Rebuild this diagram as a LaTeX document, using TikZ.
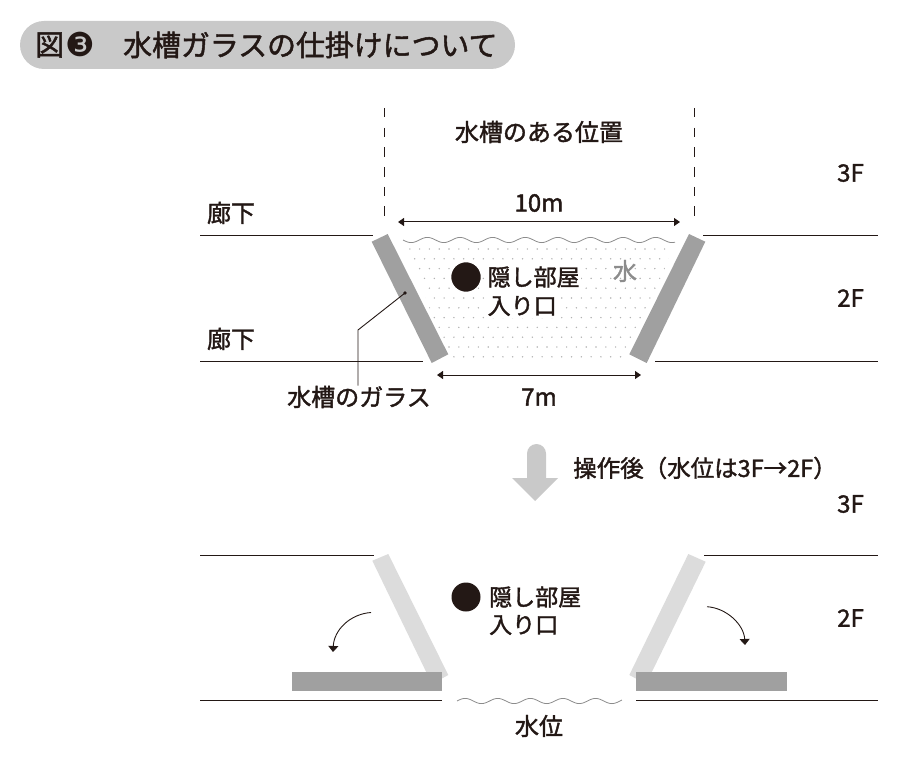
\documentclass[tikz,border=0pt]{standalone}
\usepackage{fontspec}
\setmainfont[FakeBold=1.6]{Noto Sans CJK JP}
\newfontfamily\symfont{DejaVu Sans}
\usetikzlibrary{arrows.meta}
\definecolor{ink}{HTML}{231815}
\definecolor{glass}{HTML}{A0A0A0}
\definecolor{glasslight}{HTML}{DCDCDC}
\definecolor{pill}{HTML}{C9C9C9}
\definecolor{water}{HTML}{8C8C8C}
\tikzset{
  x=1pt,y=-1pt,
  lab/.style={font=\fontsize{24}{24}\selectfont,text=ink,inner sep=0pt},
  labw/.style={lab,anchor=west,font=\fontsize{23}{24}\selectfont},
  halo/.style={fill=white,inner sep=1.5pt},
  floorline/.style={draw=ink,line width=1pt},
  dim/.style={draw=ink,line width=1pt,{Triangle[length=6pt,width=8pt]}-{Triangle[length=6pt,width=8pt]}},
  swing/.style={draw=ink,line width=0.9pt,-{Triangle[length=6pt,width=10pt]}},
  wave/.style={draw=water,line width=0.8pt},
  dashv/.style={draw=ink,line width=1pt,dash pattern=on 9.5pt off 10.2pt},
  dotm/.style={fill=ink,circle,minimum size=29pt,inner sep=0pt},
}
\begin{document}
\begin{tikzpicture}
\useasboundingbox (0,0) rectangle (899,759);
% title
\fill[pill,rounded corners=24pt] (20,21) rectangle (515,69);
\node[labw,font=\fontsize{29}{29}\selectfont] (figno) at (35,45) {図};
\node[labw,font=\fontsize{33}{33}\selectfont] (figmark) at (65,44.5) {\symfont ❸};
\node[labw,font=\fontsize{28.9}{29}\selectfont] (title) at (123,45) {水槽ガラスの仕掛けについて};
% upper: water dots
\begin{scope}
\clip (404,246) -- (674,246) -- (628,358) -- (450,358) -- cycle;
\foreach \r in {0,...,11}{
  \foreach \c in {0,...,28}{
    \pgfmathsetmacro{\dx}{400+\c*9.8+mod(\r,2)*4.9}
    \pgfmathsetmacro{\dy}{249+\r*9.8}
    \fill[black!30] (\dx,\dy) circle (0.8pt);
  }
}
\end{scope}
\draw[wave] plot[domain=403:675,samples=160,smooth] (\x,{240+2.6*sin((\x-403)/32.6*360)});
% upper glass
\fill[glass] (371.7,241.7) -- (387.7,234) -- (448.3,354.3) -- (431.7,363) -- cycle;
\fill[glass] (689,234) -- (705.3,241.7) -- (646.7,363) -- (629.3,354.3) -- cycle;
% floor lines upper
\coordinate (a1) at (200,236); \coordinate (a2) at (373,236);
\coordinate (a3) at (703,236); \coordinate (a4) at (878,236);
\coordinate (b1) at (200,361); \coordinate (b2) at (423,361);
\coordinate (b3) at (655,361); \coordinate (b4) at (878,361);
\draw[floorline] (a1) -- (a2); \draw[floorline] (a3) -- (a4);
\draw[floorline] (b1) -- (b2); \draw[floorline] (b3) -- (b4);
% dashed
\coordinate (d1) at (384,108); \coordinate (d2) at (384,216);
\coordinate (d3) at (694,108); \coordinate (d4) at (694,216);
\draw[dashv] (d1) -- (d2);
\draw[dashv] (d3) -- (d4);
% dims
\coordinate (t1) at (398,222); \coordinate (t2) at (680,222);
\coordinate (s1) at (437,375); \coordinate (s2) at (641,375);
\draw[dim] (t1) -- (t2);
\draw[dim] (s1) -- (s2);
% labels
\node[lab] (pos) at (539,132) {水槽のある位置};
\node[lab] (ten) at (539,203) {10m};
\node[lab] (seven) at (539,397) {7m};
\node[lab] (cor1) at (231,213) {廊下};
\node[lab] (cor2) at (231,339) {廊下};
\node[lab] (f3a) at (850.5,173) {3F};
\node[lab] (f2a) at (850.5,298) {2F};
\node[lab] (f3b) at (850.5,504) {3F};
\node[lab] (f2b) at (850.5,618) {2F};
\node[lab] (gl) at (359,397) {水槽のガラス};
\node[lab,text=water] (wat) at (625,271) {水};
% leader
\coordinate (lead) at (405,293);
\coordinate (bend) at (358,330);
\fill[ink] (lead) circle (1.8pt);
\draw[ink,line width=0.9pt] (lead) -- (bend) -- (gl.north -| bend);
% entrance upper
\node[dotm,draw=white,line width=1.5pt,minimum size=31pt] (c1) at (466,277) {};
\node[labw,halo] (e1a) at (486,277) {隠し部屋};
\node[labw,halo] (e1b) at (486,306) {入り口};
% operation arrow
\fill[pill] (527,478) -- (527,453.5) arc[start angle=180,end angle=0,radius=9.5pt] -- (546,478) -- (558,478) -- (535,501) -- (512,478) -- cycle;
\node[labw,font=\fontsize{23.5}{24}\selectfont] (op) at (573,468) {操作後（水位は3F→2F）};
% lower light glass
\fill[glasslight] (372.3,560.7) -- (388.3,554) -- (448.3,675) -- (432,684) -- cycle;
\fill[glasslight] (688.3,554) -- (705.7,561.7) -- (646,684) -- (629.3,675) -- cycle;
\fill[glass] (292,672) rectangle (442,691);
\fill[glass] (636,672) rectangle (787,691);
% floor lines lower
\coordinate (e1) at (200,555); \coordinate (e2) at (374,555);
\coordinate (e3) at (704,555); \coordinate (e4) at (878,555);
\coordinate (g1) at (200,700.5); \coordinate (g2) at (442,700.5);
\coordinate (g3) at (636,700.5); \coordinate (g4) at (878,700.5);
\draw[floorline] (e1) -- (e2); \draw[floorline] (e3) -- (e4);
\draw[floorline] (g1) -- (g2); \draw[floorline] (g3) -- (g4);
% swing arrows
\coordinate (l1) at (371,612.5); \coordinate (l2) at (333,652);
\coordinate (r1) at (707,606.7); \coordinate (r2) at (745,645);
\draw[swing] (l1) .. controls (350,614) and (334,630) .. (l2);
\draw[swing] (r1) .. controls (727,608) and (744,625) .. (r2);
% lower wave and texts
\draw[wave] plot[domain=457:622,samples=100,smooth] (\x,{701-2.6*sin((\x-457)/32.6*360)});
\node[lab] (lvl) at (539,726) {水位};
\node[dotm] (c2) at (466,597) {};
\node[labw] (e2a) at (489,597) {隠し部屋};
\node[labw] (e2b) at (489,625) {入り口};
\end{tikzpicture}
\end{document}
